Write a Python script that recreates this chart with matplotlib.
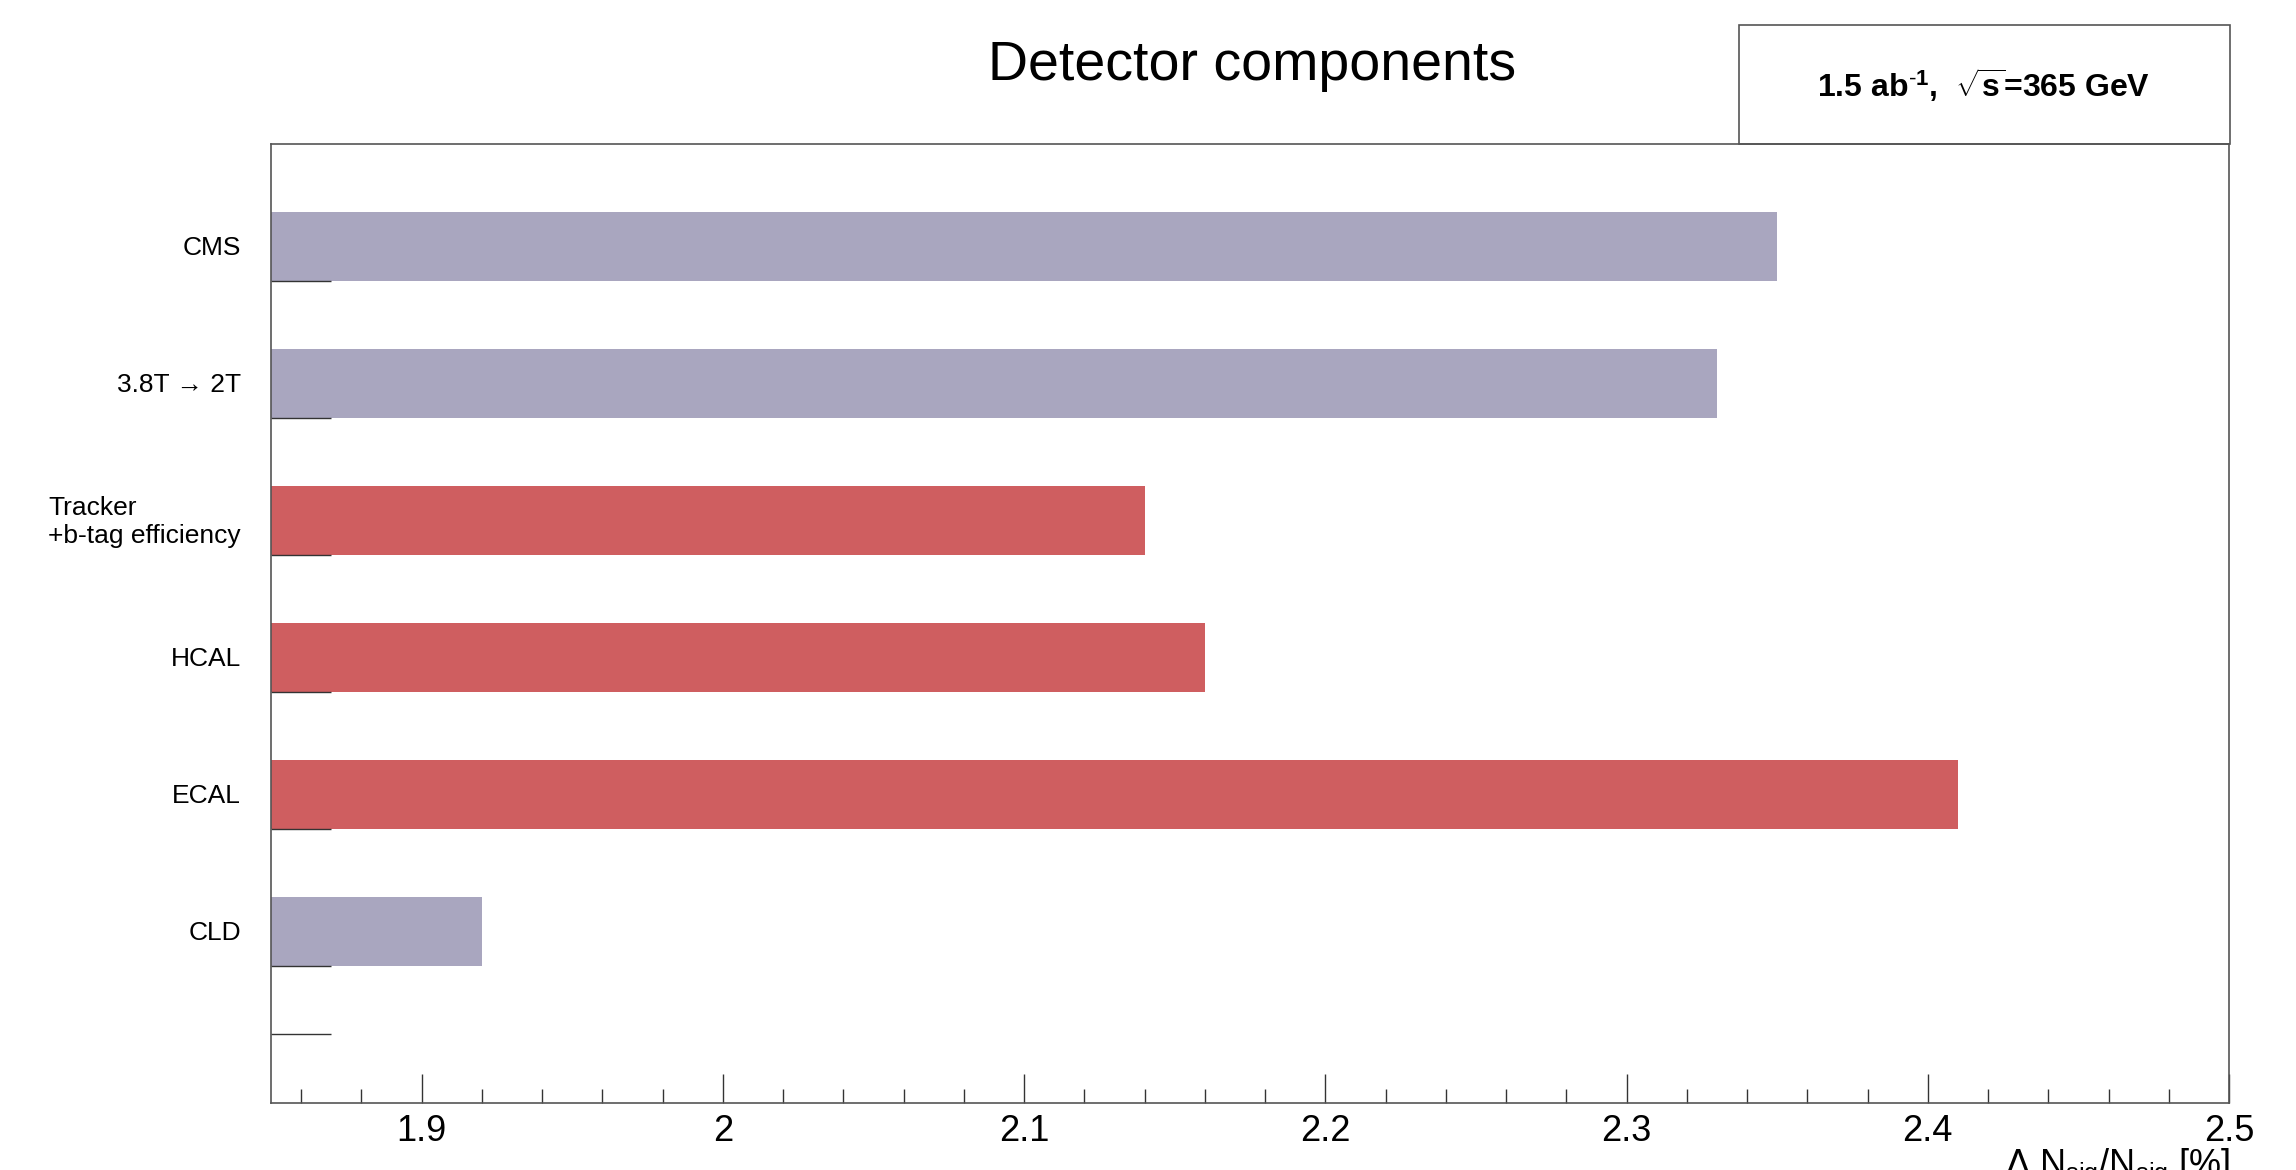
import matplotlib
matplotlib.use("Agg")
import matplotlib.pyplot as plt
from matplotlib.patches import Rectangle
from matplotlib.ticker import MultipleLocator

plt.rcParams['font.family'] = ['Liberation Sans', 'DejaVu Sans']
plt.rcParams['mathtext.fontset'] = 'custom'
plt.rcParams['mathtext.rm'] = 'Liberation Sans'
plt.rcParams['mathtext.it'] = 'Liberation Sans:italic'
plt.rcParams['mathtext.bf'] = 'Liberation Sans:bold'
plt.rcParams['mathtext.default'] = 'regular'

# data (top to bottom)
categories = ["CMS", "3.8T \u2192 2T", "Tracker\n+b-tag efficiency", "HCAL", "ECAL", "CLD"]
values = [2.35, 2.33, 2.14, 2.16, 2.41, 1.92]
colors = ["#A9A6BF", "#A9A6BF", "#CF5E60", "#CF5E60", "#CF5E60", "#A9A6BF"]
bar_pos = [6, 5, 4, 3, 2, 1]
ytick_pos = [0.5, 1, 2, 3, 4, 5, 6]
xtick_vals = [1.9, 2.0, 2.1, 2.2, 2.3, 2.4, 2.5]
xtick_labels = ["1.9", "2", "2.1", "2.2", "2.3", "2.4", "2.5"]

W, H = 2296, 1170
fig = plt.figure(figsize=(W / 100, H / 100), dpi=100)
ax = fig.add_axes([271 / W, 1 - 1103 / H, (2229 - 271) / W, (1103 - 143.5) / H])

ax.barh(bar_pos, values, height=0.5, align='edge', color=colors, edgecolor='none')
ax.set_xlim(1.85, 2.5)
ax.set_ylim(0, 7)

ax.xaxis.set_minor_locator(MultipleLocator(0.02))
ax.set_xticks(xtick_vals)
ax.set_xticklabels(xtick_labels)
ax.tick_params(axis='x', which='major', direction='in', length=21, width=1.0,
               color='#333333', labelsize=26, pad=8)
ax.tick_params(axis='x', which='minor', direction='in', length=10, width=1.0, color='#333333')

ax.set_yticks(ytick_pos)
ax.set_yticklabels([])
ax.tick_params(axis='y', which='major', direction='in', length=43, width=1.0, color='#333333')

for s in ax.spines.values():
    s.set_color('#555555')
    s.set_linewidth(1.2)

for lab, y in zip(categories, bar_pos):
    ax.text(-30 / (2229 - 271), y + 0.24, lab, transform=ax.get_yaxis_transform(),
            ha='right', va='center', fontsize=19, multialignment='left')

fig.text(1252 / W, 1 - 80 / H, "Detector components", ha='center', va='baseline', fontsize=40)

fig.patches.append(Rectangle((1739 / W, 1 - 143.5 / H), (2230 - 1739) / W, (143.5 - 25) / H,
                             transform=fig.transFigure, fill=False, edgecolor='#555555', linewidth=1.2))
fig.text(1984 / W, 1 - 85 / H, r"1.5 ab$^{\text{-}1}$,  $\sqrt{s}$=365 GeV", ha='center', va='center',
         fontsize=23, fontweight='bold')

fig.text(2230 / W, 1 - 1147 / H, r"$\Delta$ N$_{sig}$/N$_{sig}$ [%]", ha='right', va='top', fontsize=26)

fig.savefig("out.png", dpi=100)
